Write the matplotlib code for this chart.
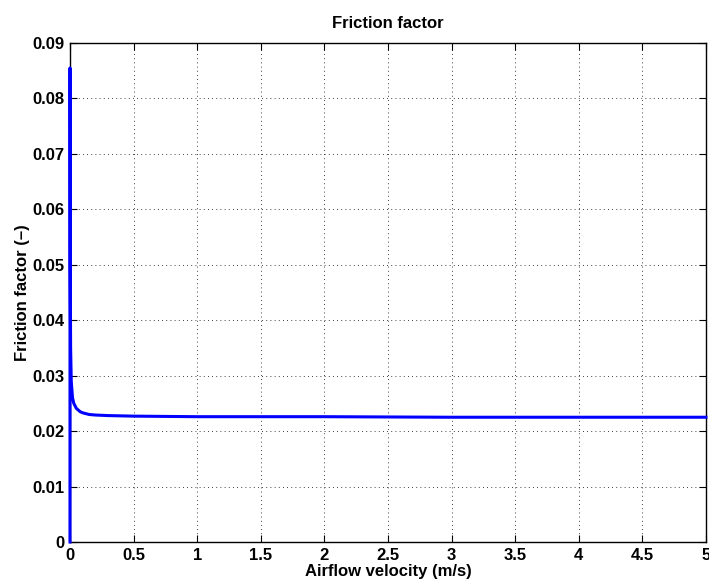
import matplotlib
matplotlib.use('Agg')
from matplotlib import pyplot as plt
import numpy as np

# airflow velocity (m/s) and friction factor (-)
velocity = [0, 0.0005, 0.002, 0.005, 0.01, 0.02, 0.03, 0.05, 0.08, 0.1,
            0.15, 0.2, 0.3, 0.5, 1.0, 1.5, 2.0, 3.0, 4.0, 5.0]
friction = [0, 0.0855, 0.05, 0.035, 0.029, 0.026, 0.0250, 0.0241, 0.0235, 0.0233,
            0.0230, 0.0229, 0.0228, 0.0227, 0.0226, 0.0226, 0.0226, 0.0225, 0.0225, 0.0225]
xticks = [0, 0.5, 1, 1.5, 2, 2.5, 3, 3.5, 4, 4.5, 5]
yticks = [0, 0.01, 0.02, 0.03, 0.04, 0.05, 0.06, 0.07, 0.08, 0.09]

plt.rcParams['font.family'] = ['Liberation Sans', 'DejaVu Sans']
plt.rcParams['font.weight'] = 'bold'

fig = plt.figure(figsize=(7.09, 5.86), dpi=100)
ax = fig.add_axes([0.0987, 0.0751, 0.897, 0.8515])
ax.plot(velocity, friction, color='#0000ff', lw=2.2, solid_joinstyle='round',
        clip_on=False, zorder=5)
ax.set_xlim(0, 5)
ax.set_ylim(0, 0.09)
ax.set_xticks(xticks)
ax.set_xticklabels(['0', '0.5', '1', '1.5', '2', '2.5', '3', '3.5', '4', '4.5', '5'])
ax.set_yticks(yticks)
ax.set_yticklabels(['0', '0.01', '0.02', '0.03', '0.04', '0.05', '0.06', '0.07', '0.08', '0.09'])
ax.tick_params(direction='in', top=True, right=True, length=5, labelsize=12, width=0.8, pad=4)
ax.grid(True, color='black', linestyle=(0, (1, 4)), lw=0.6)
for s in ax.spines.values():
    s.set_linewidth(1.0)
ax.set_title('Friction factor', fontsize=12, fontweight='bold', pad=11)
ax.set_xlabel('Airflow velocity (m/s)', fontsize=12, fontweight='bold', labelpad=1)
ax.set_ylabel('Friction factor (\u2013)', fontsize=12, fontweight='bold', labelpad=2)
fig.savefig('out.png', dpi=100)
